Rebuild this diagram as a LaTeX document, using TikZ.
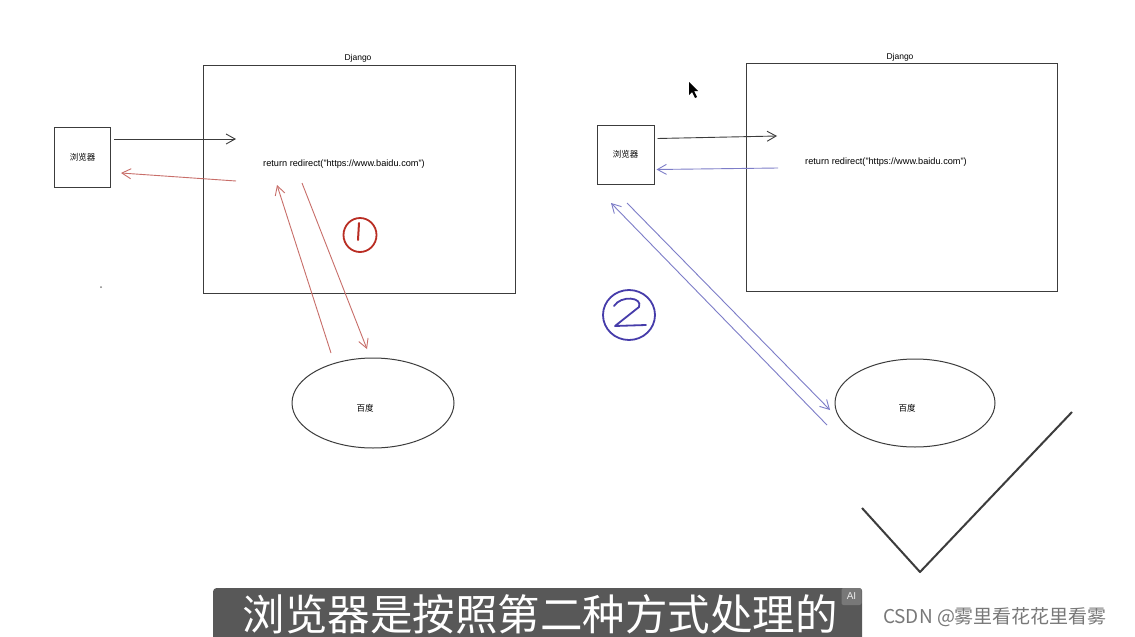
\documentclass[tikz,border=0pt]{standalone}
\usepackage{fontspec}
\setmainfont{Liberation Sans}
\newfontfamily\cjk{Noto Sans CJK SC}
\usetikzlibrary{arrows.meta,shapes.geometric}
\definecolor{linegray}{RGB}{60,60,60}
\definecolor{redarrow}{RGB}{200,110,105}
\definecolor{bluearrow}{RGB}{125,125,200}
\definecolor{redpen}{RGB}{185,45,35}
\definecolor{bluepen}{RGB}{70,60,170}
\definecolor{subbg}{RGB}{88,88,88}
\definecolor{aibg}{RGB}{120,120,120}
\definecolor{wm}{RGB}{120,120,120}
\tikzset{
  boxnode/.style={draw=linegray, line width=1pt, inner sep=0pt, font=\cjk\fontsize{8.5}{10}\selectfont},
  ellnode/.style={ellipse, draw=linegray, line width=1pt, inner sep=0pt, minimum width=162pt, minimum height=90pt},
  cjklbl/.style={inner sep=0pt, font=\cjk\fontsize{8.5}{10}\selectfont},
  lbl/.style={inner sep=0pt, font=\fontsize{8.5}{10}\selectfont},
  codelbl/.style={inner sep=0pt, font=\fontsize{9.2}{11}\selectfont},
  tip/.style={-{Straight Barb[length=9pt,width=10pt]}},
  blk/.style={tip, draw=linegray, line width=0.9pt},
  redar/.style={tip, draw=redarrow, line width=0.9pt},
  bluar/.style={tip, draw=bluearrow, line width=0.9pt},
}
\begin{document}
\begin{tikzpicture}[x=1pt,y=-1pt]
\useasboundingbox (0,0) rectangle (1135,637);
\fill[white] (0,0) rectangle (1135,637);
% left diagram
\node[boxnode, minimum width=56pt, minimum height=60pt] (lb) at (82.5,157) {浏览器};
\node[boxnode, minimum width=312pt, minimum height=228pt] (ld) at (359,179) {};
\node[lbl] (ldl) at (358,58) {Django};
\node[codelbl] (lret) at (344,164) {return redirect("https://www.baidu.com")};
\node[ellnode] (le) at (373,403) {};
\node[cjklbl] (lel) at (365,408) {百度};
\coordinate (l1) at (236,139);
\coordinate (l2) at (236,181);
\coordinate (l3) at (277,185);
\coordinate (l4) at (302,183);
\coordinate (l5) at (331,353);
\coordinate (l6) at (367,349);
\draw[blk] ([shift={(3,-18)}]lb.east) -- (l1);
\draw[redar] (l2) -- ([shift={(10,16)}]lb.east);
\draw[redar] (l5) -- (l3);
\draw[redar] (l4) -- (l6);
\node[draw=redpen, line width=1.8pt, ellipse, minimum width=33pt, minimum height=34pt, inner sep=0pt] (c1) at (360,235) {};
\draw[redpen, line width=2pt, line cap=round] ([shift={(-1,-12)}]c1.center) -- ([shift={(-2,5)}]c1.center);
\fill[gray] (101,287) circle (1pt);
% right diagram
\node[boxnode, minimum width=57pt, minimum height=59pt] (rb) at (625.5,154.5) {浏览器};
\node[boxnode, minimum width=311pt, minimum height=228pt] (rd) at (901.5,177) {};
\node[lbl] (rdl) at (900,57) {Django};
\node[codelbl] (rret) at (886,162) {return redirect("https://www.baidu.com")};
\node[ellnode, minimum width=160pt, minimum height=88pt] (re) at (915,403) {};
\node[cjklbl] (rel) at (907,408) {百度};
\coordinate (r1) at (777,136);
\coordinate (r2) at (778,168);
\coordinate (r3) at (627,203);
\coordinate (r4) at (830,410);
\coordinate (r5) at (827,425);
\coordinate (r6) at (611,203);
\draw[blk] ([shift={(3,-16)}]rb.east) -- (r1);
\draw[bluar] (r2) -- ([shift={(2,15)}]rb.east);
\draw[bluar] (r3) -- (r4);
\draw[bluar] (r5) -- (r6);
\node[draw=bluepen, line width=1.8pt, ellipse, minimum width=52pt, minimum height=50pt, inner sep=0pt] (c2) at (629,315) {};
\draw[bluepen, line width=1.8pt, line cap=round, line join=round]
  ([shift={(-15,-9)}]c2.center) .. controls ([shift={(-8,-20)}]c2.center) and ([shift={(14,-18)}]c2.center) .. ([shift={(10,-8)}]c2.center)
  -- ([shift={(-14,11)}]c2.center) -- ([shift={(17,10)}]c2.center);
% mouse cursor
\fill[black] (689,82) -- (689,95) -- (692,92) -- (695,98) -- (697,97) -- (694,91) -- (698,91) -- cycle;
% checkmark
\coordinate (k1) at (862,508);
\coordinate (k2) at (920,572);
\coordinate (k3) at (1072,412);
\draw[linegray, line width=2pt, line join=round] (k1) -- (k2) -- (k3);
% subtitle
\node[fill=subbg, rounded corners=3pt, minimum width=649pt, minimum height=52pt, anchor=north west, inner sep=0pt] (sub) at (213,588) {};
\node[text=white, inner sep=0pt, font=\cjk\fontsize{42.5}{45}\selectfont] (subt) at (540,614) {浏览器是按照第二种方式处理的};
\node[fill=aibg, rounded corners=2pt, text=white!85!gray, minimum width=20pt, minimum height=17pt, inner sep=0pt, font=\fontsize{10}{11}\selectfont] (ai) at (851.5,596.5) {AI};
\node[text=wm, inner sep=0pt, font=\cjk\fontsize{19}{21}\selectfont] (wmt) at (995,617) {CSDN @雾里看花花里看雾};
\end{tikzpicture}
\end{document}
